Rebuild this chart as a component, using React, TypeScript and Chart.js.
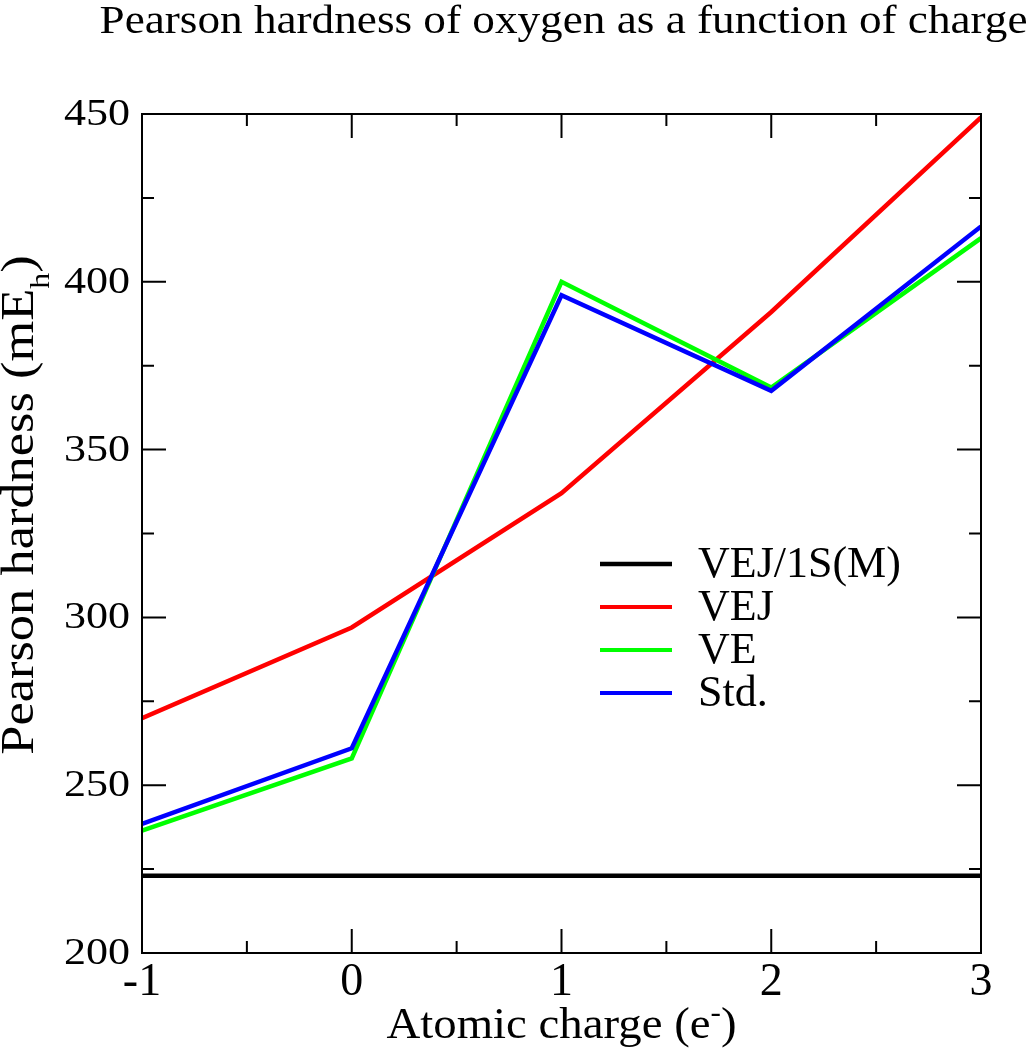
import React, { useEffect, useRef } from 'react';
import { Chart, registerables } from 'chart.js';

Chart.register(...registerables);

// ---- data ----
const charges = [-1, 0, 1, 2, 3];
const seriesLabels = ['VEJ/1S(M)', 'VEJ', 'VE', 'Std.'];
const vej1sm = [223, 223, 223, 223, 223];
const vej = [270, 297, 337, 391, 449];
const ve = [236.5, 258, 400, 368.5, 413];
const std = [238.5, 261, 396, 367.5, 416.5];
const seriesColors = ['#000000', '#ff0000', '#00ff00', '#0000ff'];
const xTickLabels = ['-1', '0', '1', '2', '3'];
const yTickLabels = ['200', '250', '300', '350', '400', '450'];
const xMinorTicks = [-0.5, 0.5, 1.5, 2.5];
const yMinorTicks = [225, 275, 325, 375, 425];
const titleText = 'Pearson hardness of oxygen as a function of charge';

const FONT = '"Liberation Serif", Tinos, "Times New Roman", Times, serif';

type Seg = { text: string; size: number; dy: number };

function drawSegments(ctx: CanvasRenderingContext2D, segs: Seg[], x: number, y: number, align: string, hs: number) {
  let total = 0;
  const widths: number[] = [];
  for (const s of segs) {
    ctx.font = `${s.size}px ${FONT}`;
    const w = ctx.measureText(s.text).width;
    widths.push(w);
    total += w;
  }
  let cx = align === 'center' ? -total / 2 : align === 'right' ? -total : 0;
  ctx.save();
  ctx.translate(x, y);
  ctx.scale(hs, 1);
  ctx.textAlign = 'left';
  ctx.textBaseline = 'alphabetic';
  ctx.fillStyle = '#000';
  segs.forEach((s, i) => {
    ctx.font = `${s.size}px ${FONT}`;
    ctx.fillText(s.text, cx, s.dy);
    cx += widths[i];
  });
  ctx.restore();
}

const decorPlugin = {
  id: 'decor',
  afterDraw(chart: any) {
    const ctx: CanvasRenderingContext2D = chart.ctx;
    const area = chart.chartArea;
    const xs = chart.scales.x;
    const ys = chart.scales.y;
    ctx.save();
    ctx.strokeStyle = '#000';
    ctx.lineWidth = 2;
    // frame
    ctx.strokeRect(area.left, area.top, area.right - area.left, area.bottom - area.top);
    // ticks (inward, all sides)
    const major = 24;
    const minor = 12;
    ctx.beginPath();
    const xTick = (v: number, len: number) => {
      const px = xs.getPixelForValue(v);
      ctx.moveTo(px, area.bottom);
      ctx.lineTo(px, area.bottom - len);
      ctx.moveTo(px, area.top);
      ctx.lineTo(px, area.top + len);
    };
    const yTick = (v: number, len: number) => {
      const py = ys.getPixelForValue(v);
      ctx.moveTo(area.left, py);
      ctx.lineTo(area.left + len, py);
      ctx.moveTo(area.right, py);
      ctx.lineTo(area.right - len, py);
    };
    xTickLabels.forEach((l) => xTick(Number(l), major));
    xMinorTicks.forEach((v) => xTick(v, minor));
    yTickLabels.forEach((l) => yTick(Number(l), major));
    yMinorTicks.forEach((v) => yTick(v, minor));
    ctx.stroke();

    // tick labels
    xTickLabels.forEach((l) => {
      const px = xs.getPixelForValue(Number(l));
      drawSegments(ctx, [{ text: l, size: 46, dy: 0 }], px, area.bottom + 42, 'center', 1);
    });
    yTickLabels.forEach((l) => {
      const py = ys.getPixelForValue(Number(l));
      drawSegments(ctx, [{ text: l, size: 38, dy: 0 }], area.left - 12, py + 11, 'right', 1.16);
    });

    // title
    const cxPlot = (area.left + area.right) / 2;
    drawSegments(ctx, [{ text: titleText, size: 40, dy: 0 }], cxPlot + 2, 33, 'center', 1.13);

    // x axis title
    drawSegments(
      ctx,
      [
        { text: 'Atomic charge (e', size: 45, dy: 0 },
        { text: '-', size: 30, dy: -16 },
        { text: ')', size: 45, dy: 0 },
      ],
      cxPlot,
      1038,
      'center',
      1.04
    );

    // y axis title (rotated)
    ctx.save();
    ctx.translate(33, 505);
    ctx.rotate(-Math.PI / 2);
    drawSegments(
      ctx,
      [
        { text: 'Pearson hardness (mE', size: 46, dy: 0 },
        { text: 'h', size: 28, dy: 16 },
        { text: ')', size: 46, dy: 0 },
      ],
      0,
      0,
      'center',
      1.14
    );
    ctx.restore();

    // legend
    const lx0 = area.left + 458;
    const lx1 = area.left + 530;
    const ly0 = area.top + 450;
    const step = 43;
    seriesLabels.forEach((lab, i) => {
      const y = ly0 + i * step;
      ctx.beginPath();
      ctx.strokeStyle = seriesColors[i];
      ctx.lineWidth = i === 0 ? 4.5 : 4;
      ctx.moveTo(lx0, y);
      ctx.lineTo(lx1, y);
      ctx.stroke();
      drawSegments(ctx, [{ text: lab, size: 44, dy: 0 }], lx1 + 26, y + 13, 'left', 1);
    });
    ctx.restore();
  },
};

export default function App() {
  const ref = useRef<HTMLCanvasElement | null>(null);
  useEffect(() => {
    document.body.style.margin = '0';
    document.body.style.overflow = 'hidden';
    const canvas = ref.current;
    if (!canvas) return;
    let chart: Chart | null = null;
    let cancelled = false;
    const build = () => {
      if (cancelled) return;
      const seriesValues = [vej1sm, vej, ve, std];
      const orders = [3, 2, 1, 0];
      chart = new Chart(canvas, {
        type: 'line',
        data: {
          datasets: seriesLabels.map((label, i) => ({
            label,
            data: charges.map((x, j) => ({ x, y: seriesValues[i][j] })),
            borderColor: seriesColors[i],
            backgroundColor: seriesColors[i],
            borderWidth: 4.5,
            pointRadius: 0,
            tension: 0,
            fill: false,
            borderJoinStyle: 'miter' as const,
            order: orders[i],
          })),
        },
        options: {
          responsive: false,
          animation: false,
          devicePixelRatio: 1,
          events: [],
          layout: { padding: { left: 0, right: 46, top: 114, bottom: 0 } },
          plugins: {
            legend: { display: false },
            title: { display: false },
            tooltip: { enabled: false },
          },
          scales: {
            x: {
              type: 'linear',
              min: -1,
              max: 3,
              ticks: { display: false, stepSize: 1 },
              grid: { display: false },
              border: { display: false },
              afterFit: (s: any) => {
                s.height = 97;
              },
            },
            y: {
              type: 'linear',
              min: 200,
              max: 450,
              ticks: { display: false, stepSize: 50 },
              grid: { display: false },
              border: { display: false },
              afterFit: (s: any) => {
                s.width = 142;
              },
            },
          },
        },
        plugins: [decorPlugin],
      });
    };
    const fontsApi: any = (document as any).fonts;
    if (fontsApi && fontsApi.load) {
      Promise.all([
        fontsApi.load('40px "Liberation Serif"'),
        fontsApi.load('28px "Liberation Serif"'),
      ])
        .catch(() => null)
        .then(build);
    } else {
      build();
    }
    return () => {
      cancelled = true;
      if (chart) chart.destroy();
    };
  }, []);
  return <canvas ref={ref} width={1027} height={1050} style={{ display: 'block' }} />;
}
